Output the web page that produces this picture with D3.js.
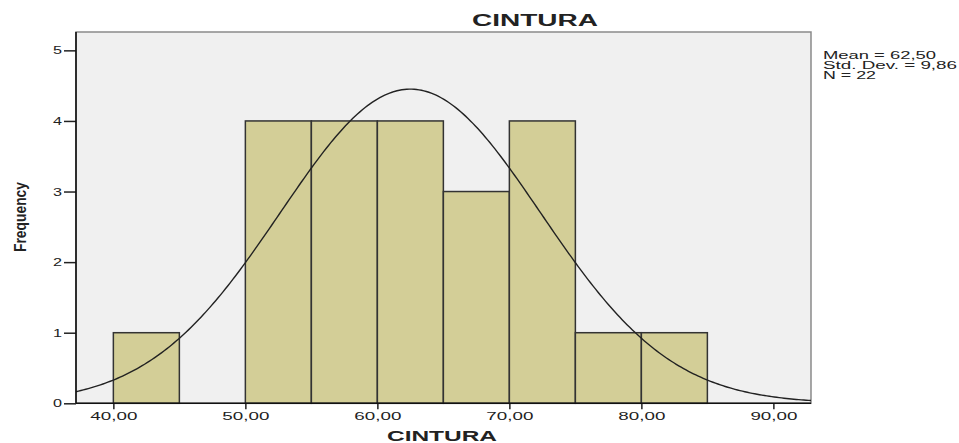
<!DOCTYPE html>
<html>
<head>
<meta charset="utf-8">
<script src="https://cdn.jsdelivr.net/npm/d3@7"></script>
<style>
  body { margin: 0; background: #fff; }
  text { font-family: "Liberation Sans", Arial, sans-serif; fill: #222; }
</style>
</head>
<body>
<div id="chart"></div>
<script>
// histogram of CINTURA, bin width 5
const binStarts = [40, 45, 50, 55, 60, 65, 70, 75, 80]
const binCounts = [1, 0, 4, 4, 4, 3, 4, 1, 1]
const binWidth = 5
const xTicks = [40, 50, 60, 70, 80, 90]
const yTicks = [0, 1, 2, 3, 4, 5]
const stats = ['Mean = 62,50', 'Std. Dev. = 9,86', 'N = 22']
const mean = 62.5, sd = 9.86, n = 22

const width = 959, height = 443
const plotLeft = 76, plotRight = 811, plotTop = 32, plotBottom = 403.3

const fmt = d => d3.format('.2f')(d).replace('.', ',')

// stretch text horizontally like the original export
const stretch = (sel, w) => sel.attr('textLength', w).attr('lengthAdjust', 'spacingAndGlyphs')

const render = () => {
    const svg = d3.select('#chart').append('svg')
        .attr('width', width)
        .attr('height', height)

    const x = d3.scaleLinear().domain([37.17, 92.85]).range([plotLeft, plotRight])
    const y = d3.scaleLinear().domain([0, 5.26]).range([plotBottom, plotTop])

    // plot background + frame
    svg.append('rect')
        .attr('x', plotLeft).attr('y', plotTop)
        .attr('width', plotRight - plotLeft).attr('height', plotBottom - plotTop)
        .style('fill', '#f0f0f0')
        .style('stroke', '#8a8a8a')
        .style('stroke-width', 1.5)

    // bars
    const bars = binStarts.map((b, i) => ({ x0: b, x1: b + binWidth, count: binCounts[i] }))
        .filter(d => d.count > 0)

    svg.selectAll('.bar')
        .data(bars)
        .enter().append('rect')
        .attr('class', 'bar')
        .attr('x', d => x(d.x0))
        .attr('y', d => y(d.count))
        .attr('width', d => x(d.x1) - x(d.x0))
        .attr('height', d => y(0) - y(d.count))
        .style('fill', '#d3ce97')
        .style('stroke', '#333')
        .style('stroke-width', 1.5)

    // normal curve scaled to counts
    const scale = n * binWidth / (sd * Math.sqrt(2 * Math.PI))
    const pts = d3.range(0, 301).map(i => {
        const v = x.domain()[0] + (x.domain()[1] - x.domain()[0]) * i / 300
        return [v, scale * Math.exp(-0.5 * ((v - mean) / sd) ** 2)]
    })
    svg.append('path')
        .datum(pts)
        .attr('d', d3.line().x(d => x(d[0])).y(d => y(d[1])))
        .style('fill', 'none')
        .style('stroke', '#222')
        .style('stroke-width', 1.4)

    // x axis
    const xAxis = svg.append('g')
        .attr('transform', `translate(0,${plotBottom})`)
        .call(d3.axisBottom(x).tickValues(xTicks).tickFormat(fmt).tickSize(6).tickSizeOuter(0))
    xAxis.select('.domain').remove()
    xAxis.selectAll('line').style('stroke', '#222').style('stroke-width', 1.5)
    xAxis.selectAll('text')
        .attr('y', 9)
        .style('font-size', '11px')
        .call(stretch, 47)

    // y axis
    const yAxis = svg.append('g')
        .attr('transform', `translate(${plotLeft},0)`)
        .call(d3.axisLeft(y).tickValues(yTicks).tickFormat(d3.format('d')).tickSize(12).tickSizeOuter(0))
    yAxis.select('.domain').remove()
    yAxis.selectAll('line').style('stroke', '#222').style('stroke-width', 1.5)
    yAxis.selectAll('text')
        .attr('x', -14)
        .style('font-size', '11px')
        .call(stretch, 9)

    // axis lines
    svg.append('line')
        .attr('x1', plotLeft).attr('x2', plotLeft).attr('y1', plotTop).attr('y2', plotBottom)
        .style('stroke', '#111').style('stroke-width', 1.6)
    svg.append('line')
        .attr('x1', plotLeft).attr('x2', plotRight).attr('y1', plotBottom).attr('y2', plotBottom)
        .style('stroke', '#111').style('stroke-width', 1.6)

    // titles
    svg.append('text')
        .attr('x', 535).attr('y', 26)
        .attr('text-anchor', 'middle')
        .style('font-size', '16px').style('font-weight', 'bold')
        .text('CINTURA')
        .call(stretch, 126)

    svg.append('text')
        .attr('x', 442).attr('y', 441)
        .attr('text-anchor', 'middle')
        .style('font-size', '14.5px').style('font-weight', 'bold')
        .text('CINTURA')
        .call(stretch, 110)

    svg.append('text')
        .attr('transform', 'translate(26,217) rotate(-90)')
        .attr('text-anchor', 'middle')
        .style('font-size', '16px').style('font-weight', 'bold')
        .text('Frequency')
        .call(stretch, 70)

    // stats box
    const statWidths = [113, 134, 53]
    svg.selectAll('.stat')
        .data(stats)
        .enter().append('text')
        .attr('class', 'stat')
        .attr('x', 823)
        .attr('y', (d, i) => 59.3 + i * 9.9)
        .style('font-size', '10px')
        .text(d => d)
        .each(function (d, i) { d3.select(this).call(stretch, statWidths[i]) })
}

render()
</script>
</body>
</html>
